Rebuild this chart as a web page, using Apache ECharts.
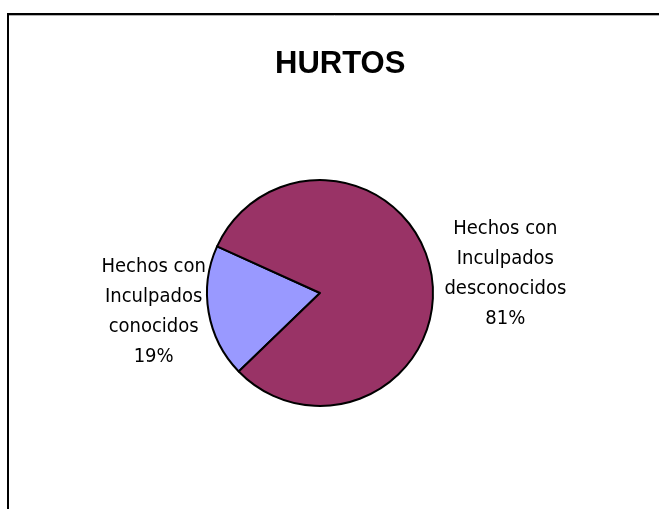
<!DOCTYPE html>
<html lang="es">
<head>
    <meta charset="UTF-8">
    <title>HURTOS</title>
    <script type="text/javascript" src="https://cdn.jsdelivr.net/npm/echarts@6/dist/echarts.min.js"></script>
    <style>
        html, body { margin: 0; padding: 0; background: #fff; }
        #pie { width: 659px; height: 509px; }
    </style>
</head>
<body>
<div id="pie"></div>
<script>
    // datos del grafico
    var categorias = ['Hechos con\nInculpados\nconocidos', 'Hechos con\nInculpados\ndesconocidos'];
    var valores = [19, 81];
    var colores = ['#9999FF', '#993366'];

    var data = [];
    for (var i = 0; i < categorias.length; i++) {
        data.push({name: categorias[i], value: valores[i], itemStyle: {color: colores[i]}});
    }

    var labelFont = "'Liberation Sans Narrow', 'Arial Narrow', 'DejaVu Sans Condensed', sans-serif";

    var option = {
        animation: false,
        title: {
            text: 'HURTOS',
            left: 270,
            top: 44,
            textStyle: {
                fontFamily: "'Liberation Sans', Arial, sans-serif",
                fontWeight: 'bold',
                fontSize: 31,
                color: '#000'
            }
        },
        // marco del area del grafico
        graphic: [{
            type: 'rect',
            shape: {x: 8, y: 14, width: 800, height: 600},
            style: {fill: 'none', stroke: '#000', lineWidth: 2}
        }, {
            type: 'line',
            shape: {x1: 9, y1: 15.5, x2: 700, y2: 15.5},
            style: {stroke: '#b0b0b0', lineWidth: 1}
        }],
        series: [{
            name: 'Hurtos',
            type: 'pie',
            radius: 113,
            center: [320, 293],
            startAngle: 224,
            clockwise: true,
            itemStyle: {
                borderColor: '#000',
                borderWidth: 2
            },
            label: {
                show: true,
                position: 'outside',
                formatter: '{b}\n{d}%',
                fontFamily: labelFont,
                fontSize: 20,
                lineHeight: 30,
                color: '#000',
                distanceToLabelLine: 0
            },
            labelLine: {
                show: false,
                length: 0,
                length2: 0
            },
            // texto centrado a cada lado de la torta
            labelLayout: function (params) {
                return {
                    align: 'center',
                    dx: params.align === 'right' ? -55 : 74
                };
            },
            data: data
        }]
    };

    var myChart = echarts.init(document.getElementById('pie'));
    myChart.setOption(option);
</script>
</body>
</html>
